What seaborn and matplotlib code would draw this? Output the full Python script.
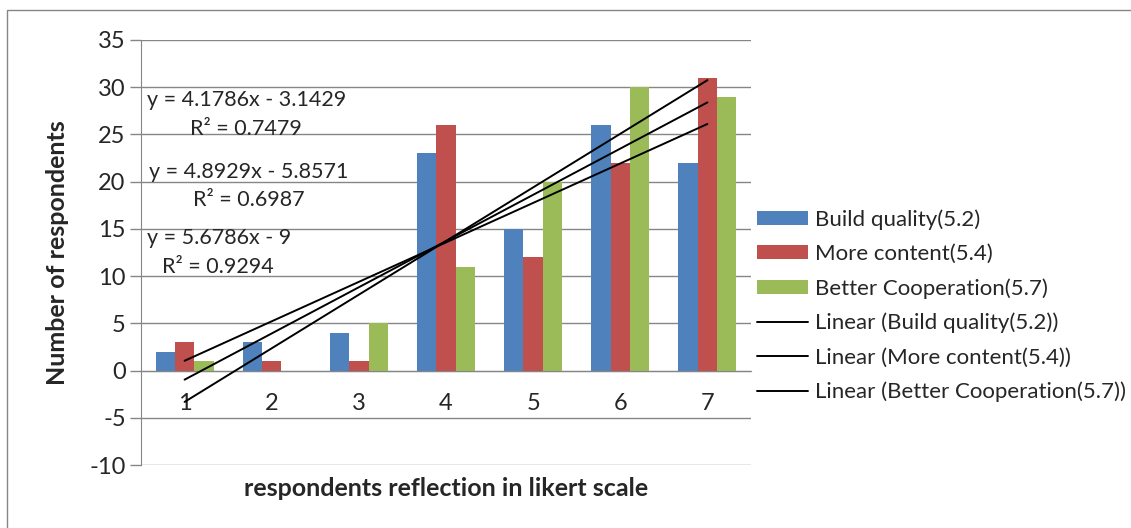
import numpy as np
import pandas as pd
import seaborn as sns
import matplotlib.pyplot as plt

scores = ['1', '2', '3', '4', '5', '6', '7']
build_quality = [2, 3, 4, 23, 15, 26, 22]
more_content = [3, 1, 1, 26, 12, 22, 31]
better_coop = [1, 0, 5, 11, 20, 30, 29]
series_names = ['Build quality(5.2)', 'More content(5.4)', 'Better Cooperation(5.7)']
colors = ['#4F81BD', '#C0504D', '#9BBB59']

sns.set_style('white')
plt.rcParams['font.family'] = ['Lato', 'DejaVu Sans']
plt.rcParams['font.size'] = 15
plt.rcParams['axes.unicode_minus'] = False

df = pd.DataFrame({
    'score': scores * 3,
    'count': build_quality + more_content + better_coop,
    'series': [s for s in series_names for _ in scores],
})

fig = plt.figure(figsize=(11.31, 5.28), dpi=100)
ax = fig.add_axes([141 / 1131, 1 - 465 / 528, 610 / 1131, 425 / 528])

sns.barplot(data=df, x='score', y='count', hue='series', palette=colors,
            saturation=1, width=0.667, errorbar=None, linewidth=0, ax=ax)

# linear trendlines (Excel style)
xs = np.arange(1, 8)
pos = np.arange(len(scores))
texts = []
for name, vals in zip(series_names, [build_quality, more_content, better_coop]):
    m, b = np.polyfit(xs, vals, 1)
    fit = m * xs + b
    r2 = 1 - np.sum((np.array(vals) - fit) ** 2) / np.sum((np.array(vals) - np.mean(vals)) ** 2)
    ax.plot(pos, fit, color='black', lw=1.4, zorder=4, label='Linear (%s)' % name)
    sign = '-' if b < 0 else '+'
    bstr = ('%.4f' % abs(b)).rstrip('0').rstrip('.')
    texts.append(('y = %.4fx %s %s' % (m, sign, bstr), 'R² = %.4f' % r2))

eq_pos = [(0.173, 0.859, 0.172, 0.791), (0.177, 0.689, 0.176, 0.624), (0.128, 0.534, 0.126, 0.466)]
for (eq, r2), (x1, y1, x2, y2) in zip(texts, eq_pos):
    ax.text(x1, y1, eq, transform=ax.transAxes, ha='center', va='center', fontsize=15.5)
    ax.text(x2, y2, r2, transform=ax.transAxes, ha='center', va='center', fontsize=15.5)

ax.set_ylim(-10, 35)
ax.set_yticks(range(-10, 36, 5))
ax.set_xlim(-0.5, 6.5)
ax.yaxis.grid(True, color='#868686', lw=1)
ax.set_axisbelow(True)
for s in ['top', 'right']:
    ax.spines[s].set_visible(False)
ax.spines['bottom'].set_position(('data', 0))
ax.spines['bottom'].set_color('#868686')
ax.spines['left'].set_color('#868686')
ax.tick_params(axis='x', length=0, pad=16, labelsize=17)
ax.tick_params(axis='y', length=8, width=1, color='#868686', pad=3, labelsize=17, left=True)

ax.set_xlabel('respondents reflection in likert scale', fontweight='bold', fontsize=18)
ax.xaxis.set_label_coords(0.5, -0.028)
ax.set_ylabel('Number of respondents', fontweight='bold', fontsize=18)
ax.yaxis.set_label_coords(-0.118, 0.5)

handles, labels = ax.get_legend_handles_labels()
ax.legend(handles, labels, loc='upper left', bbox_to_anchor=(757 / 1131, 1 - 209 / 528),
          bbox_transform=fig.transFigure, frameon=False, borderpad=0, borderaxespad=0,
          handlelength=2.3, handleheight=0.6, handletextpad=0.3, labelspacing=0.64, fontsize=16)

fig.add_artist(plt.Rectangle((7 / 1131, -0.05), 1.2, 1 - 10 / 528 + 0.05, transform=fig.transFigure,
                             fill=False, edgecolor='#868686', lw=1))

fig.savefig('out.png', dpi=100)
